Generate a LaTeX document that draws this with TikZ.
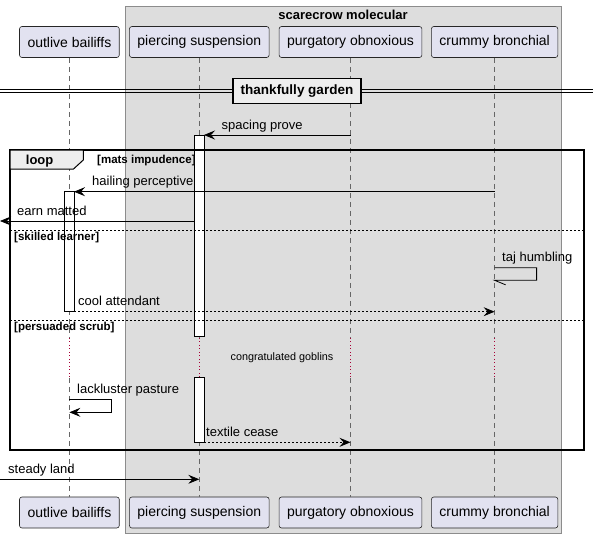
\documentclass[tikz,border=0pt]{standalone}
\usepackage{fontspec}
\setmainfont{Liberation Sans}
\usetikzlibrary{arrows.meta,positioning}

\definecolor{partfill}{HTML}{E2E2F0}
\definecolor{grpfill}{HTML}{DDDDDD}
\definecolor{tabfill}{HTML}{EEEEEE}
\definecolor{delaycol}{HTML}{A80036}

\tikzset{
  actor/.style={draw=black!85, fill=partfill, rounded corners=2.5pt, line width=0.6pt,
    inner xsep=8pt, minimum height=31pt, font=\fontsize{14}{16}\selectfont},
  lifeline/.style={draw=black!60, line width=0.6pt, dash pattern=on 5pt off 4pt},
  delayline/.style={draw=delaycol, line width=0.7pt, dash pattern=on 1pt off 2.5pt},
  msg/.style={line width=0.8pt, -{Stealth[length=11pt,width=9pt,inset=4pt]}},
  reply/.style={msg, dash pattern=on 2pt off 2pt},
  msglabel/.style={anchor=base west, inner sep=0pt, font=\fontsize{13}{15}\selectfont},
  guard/.style={anchor=base west, inner sep=0pt, font=\fontsize{11.5}{13}\selectfont\bfseries},
  activ/.style={draw=black, fill=white, line width=0.8pt},
  sep/.style={line width=0.7pt, dash pattern=on 2pt off 2pt}
}

\begin{document}
\begin{tikzpicture}[x=1pt,y=-1pt]
        \useasboundingbox (0,0) rectangle (599,538);

        % Box round the group
        \draw[fill=grpfill, draw=black!45, line width=0.8pt] (125.3,6.3) rectangle (561.7,533.3);
        \node[anchor=base, inner sep=0pt, font=\fontsize{13}{15}\selectfont\bfseries] (grptitle) at (343,19) {scarecrow molecular};

        % Participants, top and bottom
        \node[actor] (ob) at (69.4,42) {outlive bailiffs};
        \node[actor] (ps) at (199.3,42) {piercing suspension};
        \node[actor] (po) at (350.5,42) {purgatory obnoxious};
        \node[actor] (cb) at (494.6,42) {crummy bronchial};
        \node[actor] (obB) at (69.4,512.5) {outlive bailiffs};
        \node[actor] (psB) at (199.3,512.5) {piercing suspension};
        \node[actor] (poB) at (350.5,512.5) {purgatory obnoxious};
        \node[actor] (cbB) at (494.6,512.5) {crummy bronchial};

        % Lifelines, with the delay drawn dotted
        \foreach \p in {ob,ps,po,cb} {
          \coordinate (\p d1) at ([yshift=-280pt]\p.south);
          \coordinate (\p d2) at ([yshift=-320pt]\p.south);
          \draw[lifeline] (\p.south) -- (\p d1);
          \draw[delayline] (\p d1) -- (\p d2);
          \draw[lifeline] (\p d2) -- (\p B.north);
        }

        % Divider
        \coordinate (dvl) at (0,89.3);
        \coordinate (dvr) at (593,89.3);
        \draw[line width=0.9pt] (dvl) -- (dvr);
        \draw[line width=0.9pt] ([yshift=-3pt]dvl) -- ([yshift=-3pt]dvr);
        \node[draw=black, fill=tabfill, line width=1.5pt, minimum width=128pt, minimum height=25pt,
          inner sep=0pt, font=\fontsize{13.5}{15}\selectfont\bfseries] (div) at (297,91) {thankfully garden};

        % Activations
        \draw[activ] (194.7,135) rectangle (204,336);
        \draw[activ] (194.7,377) rectangle (204,442.3);
        \draw[activ] (64.3,191.7) rectangle (74,311.7);

        % Loop frame
        \draw[line width=1.6pt] (10,150) rectangle (583.7,450);
        \draw[fill=tabfill, line width=1pt] (10,150) -- (83.3,150) -- (83.3,160) -- (73.5,169) -- (10,169) -- cycle;
        \node[anchor=base west, inner sep=0pt, font=\fontsize{13}{15}\selectfont\bfseries] (looptag) at (25.7,164.5) {loop};
        \node[guard] (g1) at (97,163.5) {[mats impudence]};
        \coordinate (s1l) at (10,230);
        \coordinate (s1r) at (583.7,230);
        \draw[sep] (s1l) -- (s1r);
        \node[guard] (g2) at (14,240.3) {[skilled learner]};
        \coordinate (s2l) at (10,320.3);
        \coordinate (s2r) at (583.7,320.3);
        \draw[sep] (s2l) -- (s2r);
        \node[guard] (g3) at (14,330.8) {[persuaded scrub]};

        % Message ends
        \coordinate (m1a) at (350.5,135);   \coordinate (m1b) at (204,135);
        \coordinate (m2a) at (494.6,191.7); \coordinate (m2b) at (74,191.7);
        \coordinate (m3a) at (194.7,221);   \coordinate (m3b) at (0,221);
        \coordinate (m4a) at (494.6,267.7); \coordinate (m4b) at (494.6,280.3);
        \coordinate (m5a) at (74,311.7);    \coordinate (m5b) at (494.6,311.7);
        \coordinate (m6a) at (69.4,399.3);  \coordinate (m6b) at (69.4,412.3);
        \coordinate (m7a) at (204,442.3);   \coordinate (m7b) at (350.5,442.3);
        \coordinate (m8a) at (0,479.3);     \coordinate (m8b) at (199.3,479.3);

        % Messages
        \draw[msg] (m1a) -- (m1b);
        \node[msglabel] (l1) at (221.5,129.5) {spacing prove};
        \draw[msg] (m2a) -- (m2b);
        \node[msglabel] (l2) at (92,185.7) {hailing perceptive};
        \draw[msg] (m3a) -- (m3b);
        \node[msglabel] (l3) at (17,215) {earn matted};
        \draw[line width=0.8pt] (m4a) -- ++(42,0) |- (m4b) -- ++(11,4.5);
        \node[msglabel] (l4) at (502,261.7) {taj humbling};
        \draw[reply] (m5a) -- (m5b);
        \node[msglabel] (l5) at (78,305.7) {cool attendant};
        \node[inner sep=0pt, font=\fontsize{10.8}{12}\selectfont] (dl) at (282,357.3) {congratulated goblins};
        \draw[msg] (m6a) -- ++(42.3,0) |- (m6b);
        \node[msglabel] (l6) at (77,393.3) {lackluster pasture};
        \draw[reply] (m7a) -- (m7b);
        \node[msglabel] (l7) at (206,436.3) {textile cease};
        \draw[msg] (m8a) -- (m8b);
        \node[msglabel] (l8) at (8,473.3) {steady land};
      \end{tikzpicture}
\end{document}
